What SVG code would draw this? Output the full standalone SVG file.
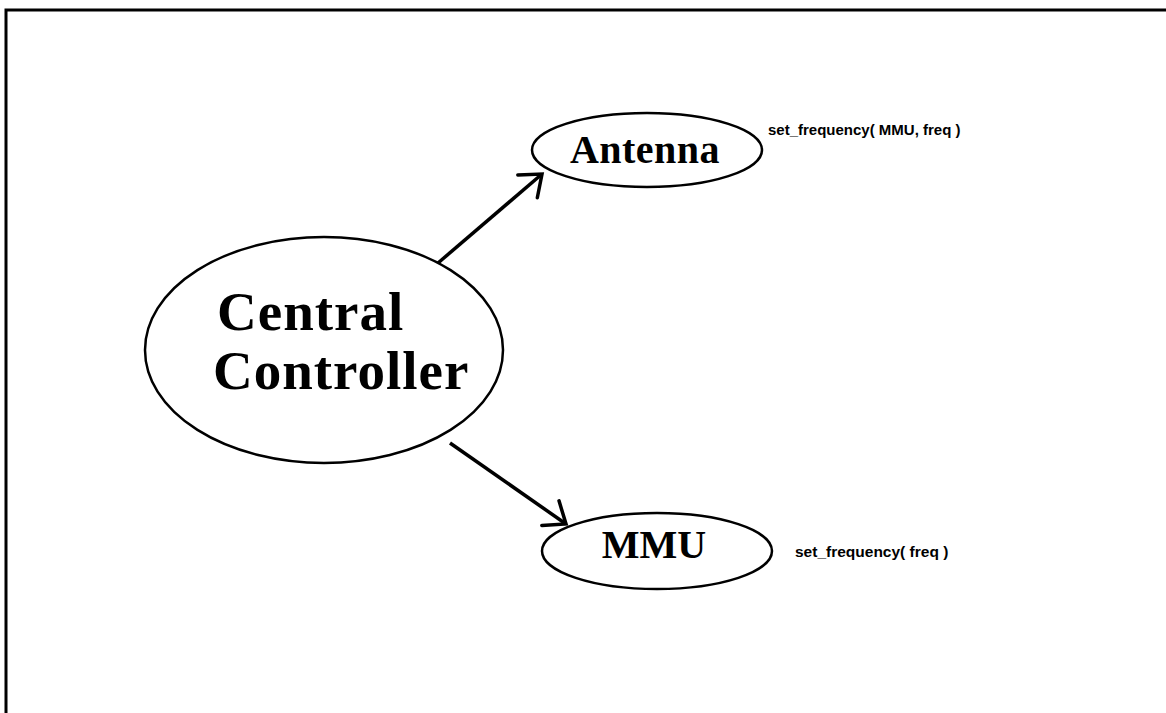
<svg xmlns="http://www.w3.org/2000/svg" width="1166" height="713" viewBox="0 0 1166 713">
<style>
.node{fill:#fff;stroke:#000;stroke-width:2.5}
.big{font-family:"Liberation Serif","Times New Roman",serif;font-weight:bold;fill:#000}
.lbl{font-family:"Liberation Sans",Arial,sans-serif;font-weight:bold;font-size:15px;fill:#000}
.edge{stroke:#000;stroke-width:3.5;fill:none}
</style>
<defs>
<marker id="arr" markerUnits="userSpaceOnUse" markerWidth="40" markerHeight="40" viewBox="-30 -20 40 40" refX="0" refY="0" orient="auto">
<path d="M -19 -15 L 0 0 L -19 15" fill="none" stroke="#000" stroke-width="3.5" stroke-linecap="round"/>
</marker>
</defs>
<rect width="1166" height="713" fill="#fff"/>
<g id="frame">
<path d="M 6 713 L 6 10 L 1166 10" fill="none" stroke="#000" stroke-width="3"/>
</g>
<g id="connectors">
<line class="edge" x1="438" y1="263" x2="542" y2="174" marker-end="url(#arr)"/>
<line class="edge" x1="450" y1="443" x2="566" y2="524" marker-end="url(#arr)"/>
</g>
<g id="central">
<ellipse class="node" cx="324" cy="350" rx="179" ry="113"/>
<text class="big" x="217" y="330" font-size="55" letter-spacing="1">Central</text>
<text class="big" x="213" y="389" font-size="55" letter-spacing="1">Controller</text>
</g>
<g id="antenna">
<ellipse class="node" cx="647" cy="150" rx="115" ry="37"/>
<text class="big" x="645" y="163" font-size="40" text-anchor="middle" letter-spacing="0.5">Antenna</text>
<text class="lbl" x="768" y="135">set_frequency( MMU, freq )</text>
</g>
<g id="mmu">
<ellipse class="node" cx="657" cy="551" rx="115" ry="38"/>
<text class="big" x="654" y="558" font-size="40" text-anchor="middle">MMU</text>
<text class="lbl" x="795" y="557" style="font-size:15.5px">set_frequency( freq )</text>
</g>
</svg>
